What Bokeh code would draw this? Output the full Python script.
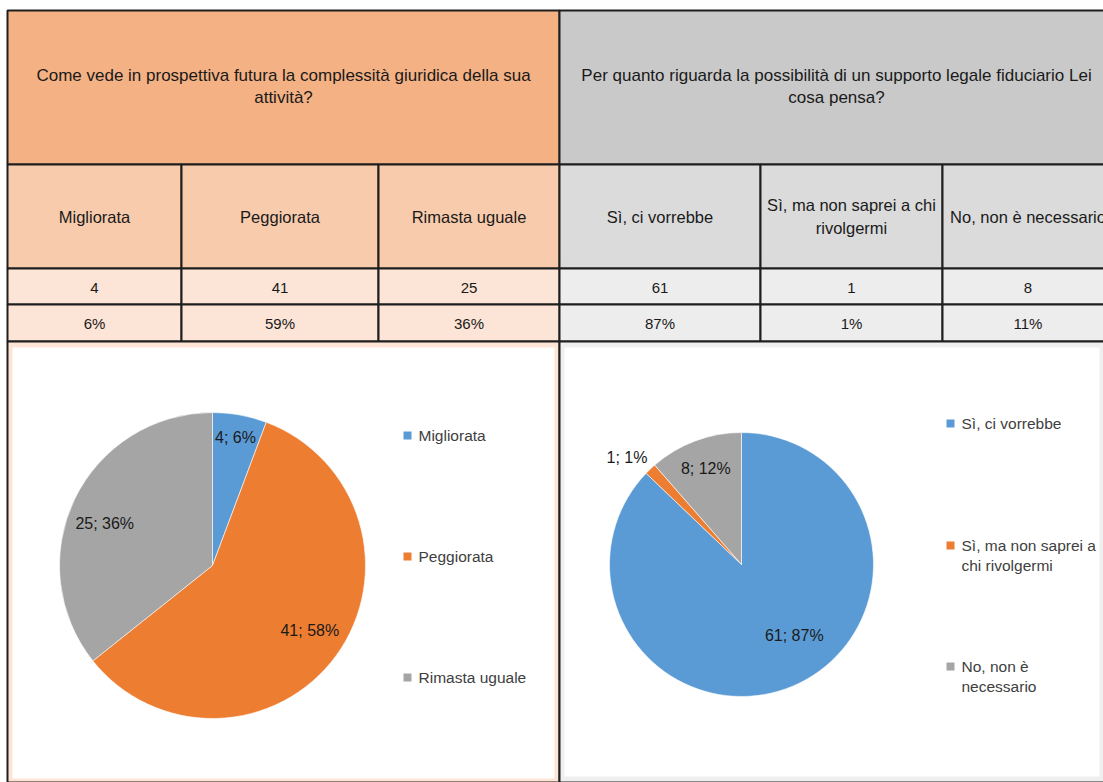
import textwrap
import numpy as np
from bokeh.plotting import figure
from bokeh.models import Range1d
from bokeh.core.properties import value
from bokeh.embed import file_html
from bokeh.resources import INLINE

# ---------------- data ----------------
q1_title_lines = ["Come vede in prospettiva futura la complessità giuridica della sua", "attività?"]
q1_categories = ["Migliorata", "Peggiorata", "Rimasta uguale"]
q1_counts = [4, 41, 25]
q1_table_pct = ["6%", "59%", "36%"]
q1_pie_labels = ["4; 6%", "41; 58%", "25; 36%"]

q2_title_lines = ["Per quanto riguarda la possibilità di un supporto legale fiduciario Lei", "cosa pensa?"]
q2_categories = ["Sì, ci vorrebbe", "Sì, ma non saprei a chi rivolgermi", "No, non è necessario"]
q2_counts = [61, 1, 8]
q2_table_pct = ["87%", "1%", "11%"]
q2_pie_labels = ["61; 87%", "1; 1%", "8; 12%"]

slice_colors = ["#5B9BD5", "#ED7D31", "#A5A5A5"]

# ---------------- layout / style ----------------
W, H = 1103, 782
FONT = value("Liberation Sans")
LINE = "#1e1e1e"


def Y(y):
    return H - y


p = figure(width=W, height=H, x_range=Range1d(0, W), y_range=Range1d(0, H),
           output_backend="svg", toolbar_location=None, min_border=0,
           x_axis_location=None, y_axis_location=None)
p.grid.visible = False
p.outline_line_color = None
p.background_fill_color = "white"
p.border_fill_color = "white"

row_edges = [10, 164, 268, 304, 341, 782]
blocks = [
    dict(cols=[7, 181, 378, 559], colors=["#F4B183", "#F8CBAD", "#FCE4D6", "#FCE4D6", "#FCE4D6"],
         inner=(12, 554, 347, 778), cats=q1_categories, counts=q1_counts, pct=q1_table_pct,
         title=q1_title_lines, pie=(212, 565, 153), labels=q1_pie_labels,
         lab_frac=[0.84, 0.77, 0.76], lab_off=[(0, -2), (2, -4), (-3, 8)],
         legend_x=407, legend_y=[435, 556, 677], wrap=19),
    dict(cols=[559, 760, 942, 1113], colors=["#C9C9C9", "#DBDBDB", "#EDEDED", "#EDEDED", "#EFEFEF"],
         inner=(564, 1099, 347, 776), cats=q2_categories, counts=q2_counts, pct=q2_table_pct,
         title=q2_title_lines, pie=(741, 564, 132), labels=q2_pie_labels,
         lab_frac=[0.67, 1.19, 0.77], lab_off=[(18, -10), (-6, 7), (0, -1)],
         legend_x=950, legend_y=[423, 545, 666], wrap=19),
]


def draw_lines(lines, x, y_center, size, lh, color="#1a1a1a", align="center"):
    n = len(lines)
    for i, ln in enumerate(lines):
        yy = y_center + (i - (n - 1) / 2) * lh
        p.text(x=[x], y=[Y(yy)], text=[ln], text_font=FONT, text_font_size=size,
               text_align=align, text_baseline="middle", text_color=color)


for b in blocks:
    c = b["cols"]
    L, R = c[0], c[-1]
    # header row
    p.quad(left=[L], right=[R], top=[Y(row_edges[0])], bottom=[Y(row_edges[1])],
           fill_color=b["colors"][0], line_color=LINE, line_width=2)
    draw_lines(b["title"], (L + R) / 2, 86, "17px", 22)
    # category / count / percent rows
    for r in range(1, 4):
        for j in range(3):
            p.quad(left=[c[j]], right=[c[j + 1]], top=[Y(row_edges[r])], bottom=[Y(row_edges[r + 1])],
                   fill_color=b["colors"][r], line_color=LINE, line_width=2)
    for j in range(3):
        cx = (c[j] + c[j + 1]) / 2
        draw_lines(textwrap.wrap(b["cats"][j], 23), cx, 216, "16.5px", 23)
        draw_lines([str(b["counts"][j])], cx, 287, "15px", 20)
        draw_lines([b["pct"][j]], cx, 323, "15px", 20)
    # chart area
    p.quad(left=[L], right=[R], top=[Y(row_edges[4])], bottom=[Y(row_edges[5])],
           fill_color=b["colors"][4], line_color=LINE, line_width=2)
    il, ir, it, ib = b["inner"]
    p.quad(left=[il], right=[ir], top=[Y(it)], bottom=[Y(ib)], fill_color="white", line_color=None)

    # pie
    pcx, pcy, pr = b["pie"]
    counts = np.array(b["counts"], dtype=float)
    frac = counts / counts.sum()
    cum = np.concatenate([[0.0], np.cumsum(frac)])
    start = np.pi / 2 - 2 * np.pi * cum[:-1]
    end = np.pi / 2 - 2 * np.pi * cum[1:]
    p.wedge(x=[pcx] * 3, y=[Y(pcy)] * 3, radius=pr, start_angle=list(start), end_angle=list(end),
            direction="clock", fill_color=slice_colors, line_color="white", line_width=0.6)
    mid = np.pi / 2 - 2 * np.pi * (cum[:-1] + frac / 2)
    for k in range(3):
        f = b["lab_frac"][k]
        dx, dy = b["lab_off"][k]
        lx = pcx + pr * f * np.cos(mid[k]) + dx
        ly = Y(pcy) + pr * f * np.sin(mid[k]) - dy
        p.text(x=[lx], y=[ly], text=[b["labels"][k]], text_font=FONT, text_font_size="16px",
               text_align="center", text_baseline="middle", text_color="#1a1a1a")

    # legend
    for k in range(3):
        ly = b["legend_y"][k]
        p.rect(x=[b["legend_x"]], y=[Y(ly)], width=8, height=8, fill_color=slice_colors[k], line_color=None)
        lines = textwrap.wrap(b["cats"][k], b["wrap"])
        for i, ln in enumerate(lines):
            p.text(x=[b["legend_x"] + 11], y=[Y(ly + i * 20)], text=[ln], text_font=FONT,
                   text_font_size="15.5px", text_align="left", text_baseline="middle",
                   text_color="#404040")

open("out.html", "w").write(file_html(p, INLINE))
